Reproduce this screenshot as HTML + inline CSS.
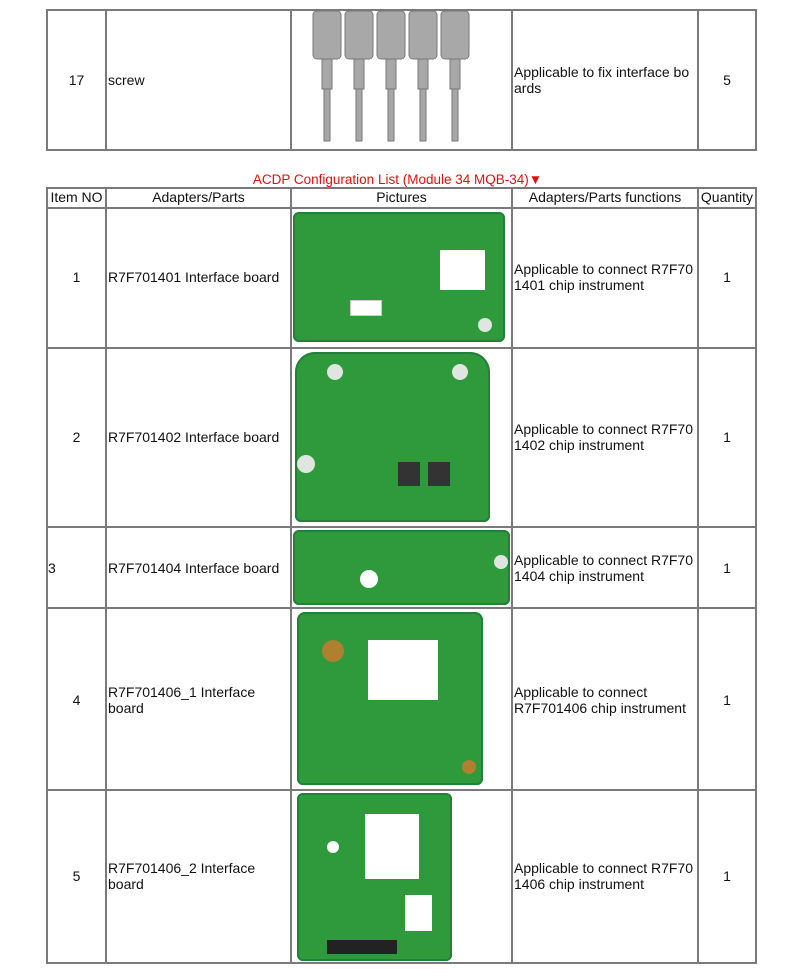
<!DOCTYPE html>
<html><head><meta charset="utf-8"><style>
body{margin:0;width:795px;height:969px;background:#fff;position:relative;overflow:hidden;font-family:"Liberation Sans",Arial,sans-serif;font-size:14px;color:#111}
.h{position:absolute;height:2px;background:#7a7a7a}
.v{position:absolute;width:2px;background:#7a7a7a}
.t{position:absolute;line-height:16px}
.c{text-align:center}
.g{position:absolute;background:#2e9a3c;border-radius:6px;box-shadow:inset 0 0 0 2px #23803a}
.w{position:absolute;background:#fff}
.hole{position:absolute;border-radius:50%;background:#dfe5df}
</style></head><body>
<div class="h" style="left:46px;top:9px;width:711px"></div>
<div class="h" style="left:46px;top:149px;width:711px"></div>
<div class="v" style="left:46px;top:9px;height:142px"></div>
<div class="v" style="left:105px;top:9px;height:142px"></div>
<div class="v" style="left:290px;top:9px;height:142px"></div>
<div class="v" style="left:511px;top:9px;height:142px"></div>
<div class="v" style="left:697px;top:9px;height:142px"></div>
<div class="v" style="left:755px;top:9px;height:142px"></div>
<div class="t c" style="left:48px;width:57px;top:72px">17</div>
<div class="t" style="left:108px;top:72px">screw</div>
<div class="t" style="left:514px;top:64px;width:185px">Applicable to fix interface bo<br>ards</div>
<div class="t c" style="left:699px;width:56px;top:72px">5</div>
<svg style="position:absolute;left:305px;top:11px" width="180" height="140">
<g fill="#a8a8a8" stroke="#777">
<rect x="8" y="0" width="28" height="48" rx="4"/><rect x="40" y="0" width="28" height="48" rx="4"/><rect x="72" y="0" width="28" height="48" rx="4"/><rect x="104" y="0" width="28" height="48" rx="4"/><rect x="136" y="0" width="28" height="48" rx="4"/>
<rect x="17" y="48" width="10" height="30"/><rect x="49" y="48" width="10" height="30"/><rect x="81" y="48" width="10" height="30"/><rect x="113" y="48" width="10" height="30"/><rect x="145" y="48" width="10" height="30"/>
<rect x="19" y="78" width="6" height="52"/><rect x="51" y="78" width="6" height="52"/><rect x="83" y="78" width="6" height="52"/><rect x="115" y="78" width="6" height="52"/><rect x="147" y="78" width="6" height="52"/>
</g></svg>
<div class="t" style="left:0;width:795px;top:172px;text-align:center;color:#e01010;font-size:13.5px">ACDP Configuration List (Module 34 MQB-34)▼</div>
<div class="h" style="left:46px;top:187px;width:711px"></div>
<div class="h" style="left:46px;top:207px;width:711px"></div>
<div class="h" style="left:46px;top:347px;width:711px"></div>
<div class="h" style="left:46px;top:526px;width:711px"></div>
<div class="h" style="left:46px;top:607px;width:711px"></div>
<div class="h" style="left:46px;top:789px;width:711px"></div>
<div class="h" style="left:46px;top:962px;width:711px"></div>
<div class="v" style="left:46px;top:187px;height:777px"></div>
<div class="v" style="left:105px;top:187px;height:777px"></div>
<div class="v" style="left:290px;top:187px;height:777px"></div>
<div class="v" style="left:511px;top:187px;height:777px"></div>
<div class="v" style="left:697px;top:187px;height:777px"></div>
<div class="v" style="left:755px;top:187px;height:777px"></div>
<div class="t c" style="left:48px;width:57px;top:189px">Item NO</div>
<div class="t c" style="left:107px;width:183px;top:189px">Adapters/Parts</div>
<div class="t c" style="left:292px;width:219px;top:189px">Pictures</div>
<div class="t c" style="left:513px;width:184px;top:189px">Adapters/Parts functions</div>
<div class="t c" style="left:699px;width:56px;top:189px">Quantity</div>

<div class="t c" style="left:48px;width:57px;top:269px">1</div>
<div class="t" style="left:108px;top:269px">R7F701401 Interface board</div>
<div class="t" style="left:514px;top:261px">Applicable to connect R7F70<br>1401 chip instrument</div>
<div class="t c" style="left:699px;width:56px;top:269px">1</div>

<div class="t c" style="left:48px;width:57px;top:429px">2</div>
<div class="t" style="left:108px;top:429px">R7F701402 Interface board</div>
<div class="t" style="left:514px;top:421px">Applicable to connect R7F70<br>1402 chip instrument</div>
<div class="t c" style="left:699px;width:56px;top:429px">1</div>

<div class="t" style="left:48px;top:560px">3</div>
<div class="t" style="left:108px;top:560px">R7F701404 Interface board</div>
<div class="t" style="left:514px;top:552px">Applicable to connect R7F70<br>1404 chip instrument</div>
<div class="t c" style="left:699px;width:56px;top:560px">1</div>

<div class="t c" style="left:48px;width:57px;top:692px">4</div>
<div class="t" style="left:108px;top:684px">R7F701406_1 Interface<br>board</div>
<div class="t" style="left:514px;top:684px">Applicable to connect<br>R7F701406 chip instrument</div>
<div class="t c" style="left:699px;width:56px;top:692px">1</div>

<div class="t c" style="left:48px;width:57px;top:868px">5</div>
<div class="t" style="left:108px;top:860px">R7F701406_2 Interface<br>board</div>
<div class="t" style="left:514px;top:860px">Applicable to connect R7F70<br>1406 chip instrument</div>
<div class="t c" style="left:699px;width:56px;top:868px">1</div>

<div class="g" style="left:293px;top:212px;width:212px;height:130px"></div>
<div class="w" style="left:440px;top:250px;width:45px;height:40px"></div>
<div class="w" style="left:350px;top:300px;width:30px;height:14px;border:1px solid #ccc"></div>
<div class="hole" style="left:478px;top:318px;width:14px;height:14px"></div>

<div class="g" style="left:295px;top:352px;width:195px;height:170px;border-radius:20px 20px 6px 6px"></div>
<div class="hole" style="left:327px;top:364px;width:16px;height:16px"></div>
<div class="hole" style="left:452px;top:364px;width:16px;height:16px"></div>
<div class="hole" style="left:297px;top:455px;width:18px;height:18px"></div>
<div class="w" style="left:398px;top:462px;width:22px;height:24px;background:#333"></div>
<div class="w" style="left:428px;top:462px;width:22px;height:24px;background:#333"></div>

<div class="g" style="left:293px;top:530px;width:217px;height:75px"></div>
<div class="hole" style="left:360px;top:570px;width:18px;height:18px;background:#fff"></div>
<div class="hole" style="left:494px;top:555px;width:14px;height:14px"></div>

<div class="g" style="left:297px;top:612px;width:186px;height:173px;border-radius:8px 8px 6px 6px"></div>
<div class="w" style="left:368px;top:640px;width:70px;height:60px"></div>
<div class="hole" style="left:322px;top:640px;width:22px;height:22px;background:#b08030"></div>
<div class="hole" style="left:462px;top:760px;width:14px;height:14px;background:#b08030"></div>

<div class="g" style="left:297px;top:793px;width:155px;height:168px;border-radius:6px"></div>
<div class="w" style="left:365px;top:814px;width:54px;height:65px"></div>
<div class="w" style="left:405px;top:895px;width:27px;height:36px"></div>
<div class="w" style="left:327px;top:940px;width:70px;height:14px;background:#222"></div>
<div class="hole" style="left:327px;top:841px;width:12px;height:12px;background:#fff"></div>
</body></html>
